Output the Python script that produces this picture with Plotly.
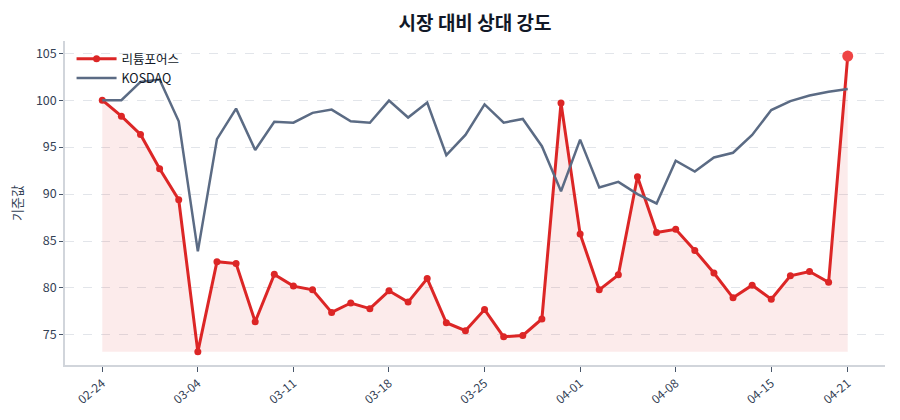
import plotly.graph_objects as go

dates = ["02-24", "02-25", "02-26", "02-27", "02-28",
         "03-04", "03-05", "03-06", "03-07", "03-10",
         "03-11", "03-12", "03-13", "03-14", "03-17",
         "03-18", "03-19", "03-20", "03-21", "03-24",
         "03-25", "03-26", "03-27", "03-28", "03-31",
         "04-01", "04-02", "04-03", "04-04", "04-07",
         "04-08", "04-09", "04-10", "04-11", "04-14",
         "04-15", "04-16", "04-17", "04-18", "04-21"]

stock = [100.0, 98.3, 96.35, 92.7, 89.4,
         73.2, 82.8, 82.6, 76.4, 81.45,
         80.2, 79.8, 77.4, 78.4, 77.8,
         79.7, 78.5, 81.0, 76.3, 75.45,
         77.7, 74.8, 74.95, 76.7, 99.7,
         85.75, 79.8, 81.4, 91.85, 85.9,
         86.25, 84.0, 81.6, 78.95, 80.3,
         78.8, 81.3, 81.75, 80.6, 104.7]

kosdaq = [100.0, 100.0, 101.95, 102.2, 97.75,
          83.9, 95.85, 99.1, 94.7, 97.7,
          97.6, 98.65, 99.0, 97.75, 97.6,
          99.95, 98.15, 99.75, 94.15, 96.3,
          99.55, 97.6, 98.0, 95.1, 90.3,
          95.8, 90.7, 91.3, 90.0, 89.0,
          93.55, 92.4, 93.9, 94.4, 96.3,
          98.95, 99.9, 100.5, 100.9, 101.2]

tick_idx = [0, 5, 10, 15, 20, 25, 30, 35, 39]

x = list(range(len(dates)))
base = min(stock)
red = "#dc2626"
slate = "#5b6b84"
grey_txt = "#334155"

fig = go.Figure()
# baseline for fill
fig.add_trace(go.Scatter(x=x, y=[base] * len(x), mode="lines",
                         line=dict(width=0, color="rgba(0,0,0,0)"),
                         showlegend=False, hoverinfo="skip"))
fig.add_trace(go.Scatter(x=x, y=stock, mode="lines", fill="tonexty",
                         fillcolor="rgba(220,38,38,0.09)",
                         line=dict(width=0, color="rgba(0,0,0,0)"),
                         showlegend=False, hoverinfo="skip"))
fig.add_trace(go.Scatter(x=x, y=stock, mode="lines+markers", name="리튬포어스",
                         line=dict(color=red, width=3),
                         marker=dict(color=red, size=7)))
fig.add_trace(go.Scatter(x=x, y=kosdaq, mode="lines", name="KOSDAQ",
                         line=dict(color=slate, width=2.5)))
fig.add_trace(go.Scatter(x=[x[-1]], y=[stock[-1]], mode="markers",
                         marker=dict(color="#ef4444", size=11),
                         showlegend=False))

fig.update_layout(
    width=900, height=420,
    margin=dict(l=65, r=15, t=41, b=55),
    paper_bgcolor="white", plot_bgcolor="white",
    font=dict(family="Noto Sans CJK KR, Noto Sans, sans-serif", color=grey_txt, size=12),
    title=dict(text="<b>시장 대비 상대 강도</b>", x=0.5, xref="paper", xanchor="center",
               y=0.96, yanchor="top",
               font=dict(size=19, color="#111827")),
    legend=dict(x=0.008, y=0.99, xanchor="left", yanchor="top",
                traceorder="normal",
                bgcolor="rgba(255,255,255,0)", font=dict(size=12.5, color="#111827"),
                itemwidth=40, tracegroupgap=0),
    showlegend=True,
)
fig.update_xaxes(
    range=[-1.95, 40.95], showgrid=False, zeroline=False,
    tickmode="array", tickvals=tick_idx, ticktext=[dates[i] for i in tick_idx],
    tickangle=-40, ticks="outside", ticklen=5, tickcolor="#475569",
    showline=True, linecolor="#d1d5db", linewidth=1.5,
    tickfont=dict(size=12, color=grey_txt),
)
fig.update_yaxes(
    range=[71.8, 106.3], showgrid=True, gridcolor="#e2e5ea", griddash="dash",
    gridwidth=1, zeroline=False,
    tickvals=[75, 80, 85, 90, 95, 100, 105],
    ticks="outside", ticklen=4, tickcolor="#475569",
    showline=True, linecolor="#d1d5db", linewidth=1.5,
    tickfont=dict(size=12.5, color=grey_txt),
    title=dict(text="기준값", font=dict(size=13, color=grey_txt), standoff=10),
)

fig.write_html("out.html")
